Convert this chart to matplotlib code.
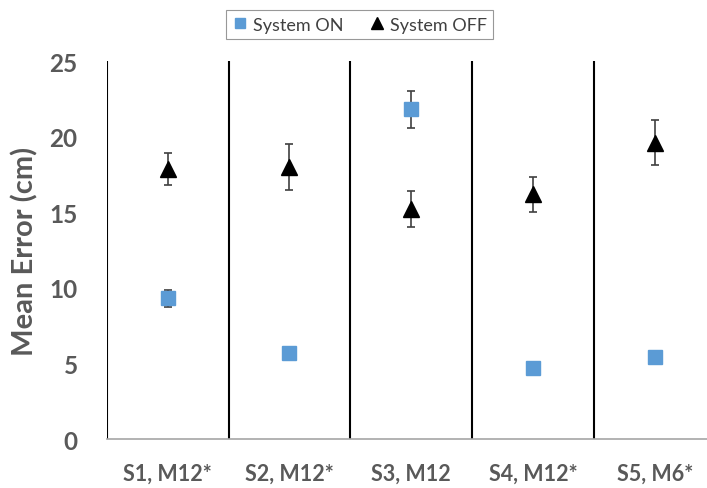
import matplotlib.pyplot as plt
import numpy as np

categories = ["S1, M12*", "S2, M12*", "S3, M12", "S4, M12*", "S5, M6*"]
on_mean = [9.3, 5.7, 21.8, 4.7, 5.4]
on_err = [0.55, 0.3, 1.2, 0.0, 0.0]
off_mean = [17.85, 18.0, 15.2, 16.2, 19.6]
off_err = [1.05, 1.5, 1.2, 1.15, 1.5]

plt.rcParams['font.family'] = ['Lato', 'DejaVu Sans']
gray = "#595959"

fig = plt.figure(figsize=(7.07, 4.89), dpi=100)
ax = fig.add_axes([0.151, 0.1, 0.849, 0.773])

x = np.arange(len(categories))

# separators between subjects
for b in np.arange(-0.5, len(categories) - 0.5, 1.0):
    ax.plot([b, b], [0, 25], color="black", lw=1.5, zorder=1)

ax.errorbar(x, on_mean, yerr=on_err, fmt="s", color="#5B9BD5", ms=10.5,
            ecolor="#404040", elinewidth=1.2, capsize=3, capthick=1.2,
            label="System ON", zorder=3)
ax.errorbar(x, off_mean, yerr=off_err, fmt="^", color="black", ms=11,
            ecolor="#404040", elinewidth=1.2, capsize=3, capthick=1.2,
            label="System OFF", zorder=3)

ax.set_xlim(-0.5, 4.43)
ax.set_ylim(0, 25)
ax.set_yticks([0, 5, 10, 15, 20, 25])
ax.set_xticks(x)
ax.set_xticklabels(categories, fontsize=15.5, fontweight="bold", color=gray)
ax.tick_params(axis="y", labelsize=17.5, length=0, pad=21, labelcolor=gray)
ax.tick_params(axis="x", length=0, pad=17)
for lab in ax.get_yticklabels():
    lab.set_fontweight("bold")
ax.set_ylabel("Mean Error (cm)", fontsize=21, fontweight="bold", color=gray, labelpad=8)

for s in ["top", "right", "left"]:
    ax.spines[s].set_visible(False)
ax.spines["bottom"].set_color("#A6A6A6")
ax.spines["bottom"].set_linewidth(1.2)

h, l = ax.get_legend_handles_labels()
h = [hh[0] for hh in h]
leg = fig.legend(h, l, loc="upper center", bbox_to_anchor=(0.509, 0.995), ncol=2,
                 fontsize=13, frameon=True, fancybox=False, edgecolor="#7F7F7F",
                 handlelength=0.8, handletextpad=0.3, columnspacing=1.5,
                 markerscale=0.75, borderpad=0.35)
leg.get_frame().set_linewidth(0.8)
for t in leg.get_texts():
    t.set_color("#404040")

fig.savefig("out.png", dpi=100)
